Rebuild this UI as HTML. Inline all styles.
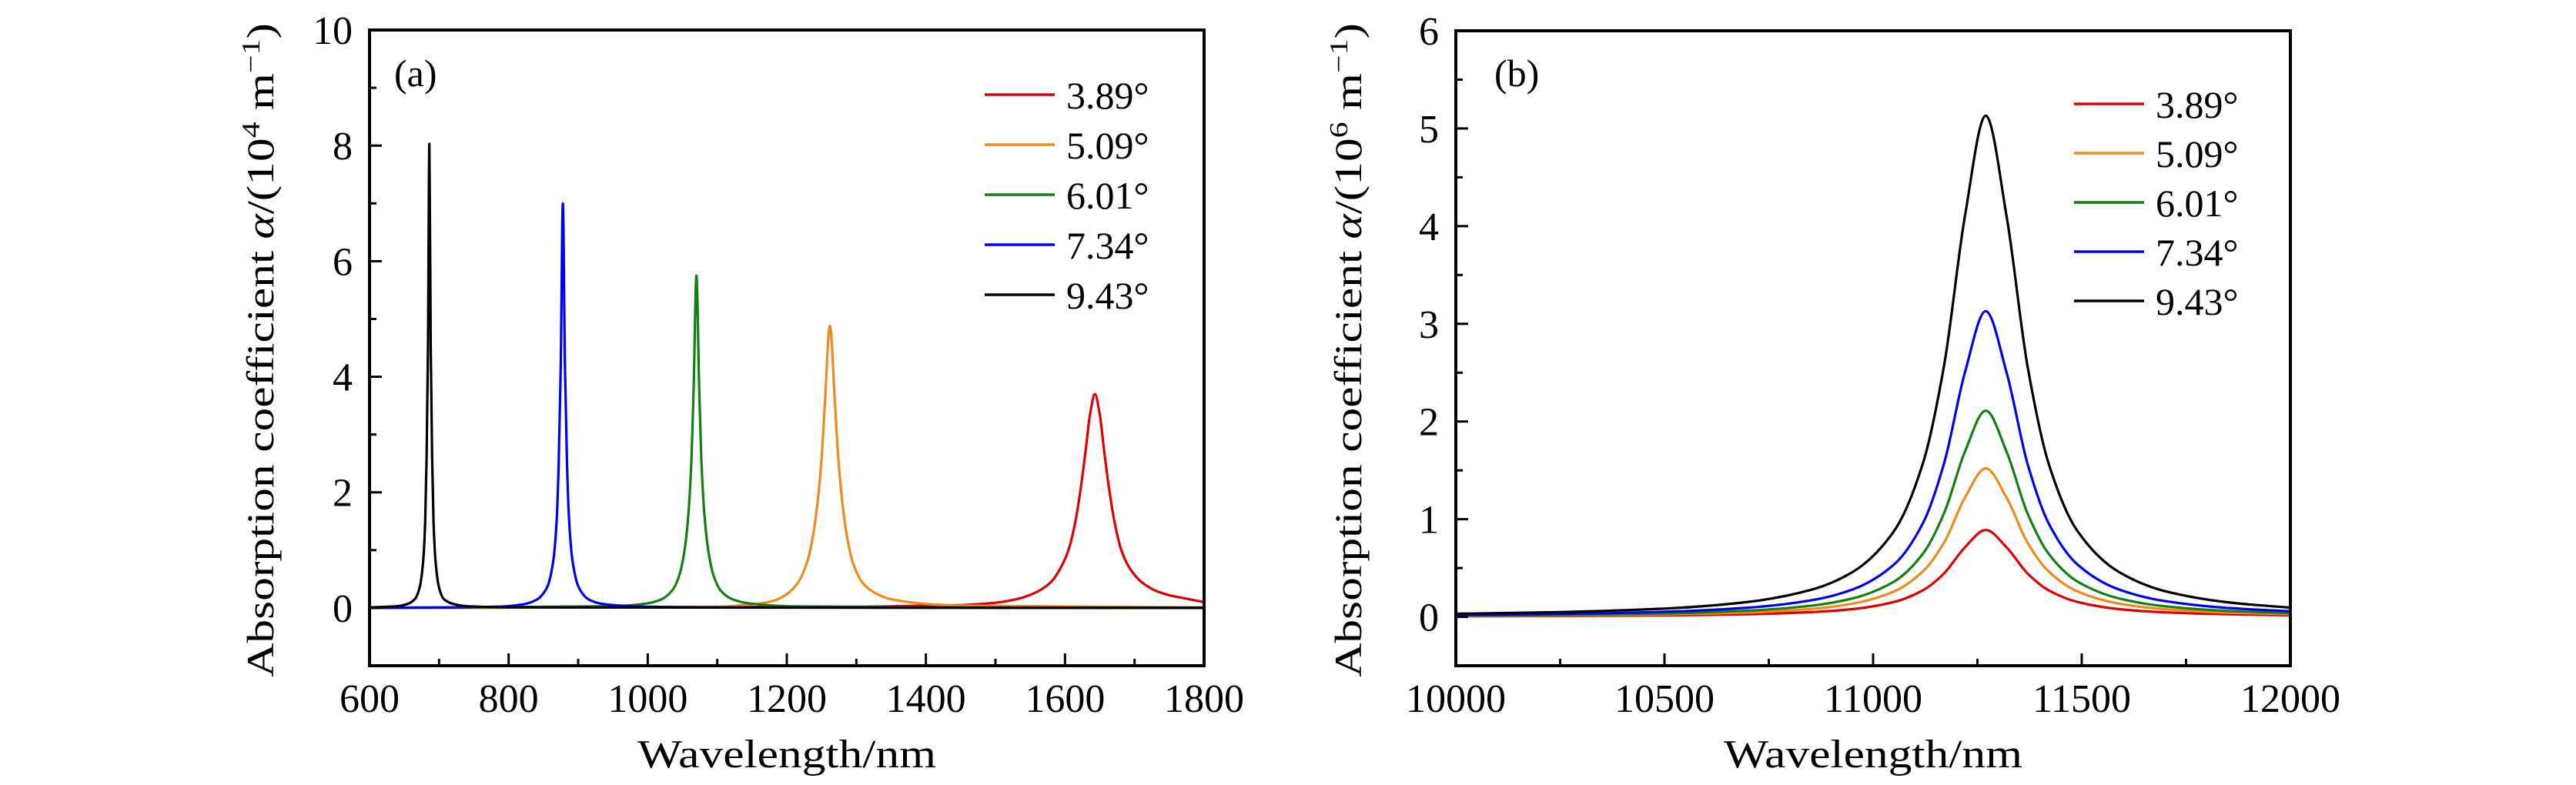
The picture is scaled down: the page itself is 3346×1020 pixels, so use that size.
<!DOCTYPE html>
<html><head><meta charset="utf-8"><style>
html,body{margin:0;padding:0;background:#fff;}
svg{display:block;font-family:"Liberation Serif",serif;}
</style></head><body>
<svg id="chart" width="3346" height="1020" viewBox="0 0 3346 1020" xmlns="http://www.w3.org/2000/svg"></svg>
<script>
const seriesNames = ["3.89°","5.09°","6.01°","7.34°","9.43°"];
const seriesColors = ["#e00000","#f08a1c","#128012","#0000f0","#000000"];

// Panel (a) data
const aRedX = [600,1300,1400,1450,1500,1530,1560,1580,1595,1605,1615,1623,1630,1636,1643,1650,1656,1663,1671,1681,1695,1710,1730,1750,1775,1800];
const aRedY = [0,0.02,0.04,0.05,0.09,0.15,0.28,0.45,0.72,1.0,1.5,2.1,2.75,3.35,3.7,3.35,2.75,2.1,1.5,1.0,0.65,0.45,0.3,0.22,0.16,0.1];
const aOrangeX = [600,1100,1150,1180,1200,1215,1228,1237,1244,1250,1255,1262,1269,1274,1280,1287,1296,1310,1330,1350,1400,1450,1800];
const aOrangeY = [0,0.02,0.06,0.12,0.24,0.42,0.75,1.2,1.8,2.6,3.6,4.88,3.6,2.6,1.8,1.2,0.75,0.42,0.24,0.15,0.07,0.04,0.01];
const aGreenX = [600,950,1000,1020,1035,1045,1053,1059,1063,1066,1070,1074,1077,1081,1087,1095,1105,1120,1140,1170,1200,1400,1800];
const aGreenY = [0,0.03,0.08,0.15,0.3,0.55,1.0,1.7,2.6,3.8,5.75,3.8,2.6,1.7,1.0,0.55,0.3,0.16,0.09,0.05,0.03,0.01,0];
const aBlueX = [600,780,820,840,855,864,869,872,875,878,881,884,887,892,901,916,935,960,1000,1100,1800];
const aBlueY = [0,0.02,0.06,0.14,0.35,0.8,1.5,2.5,4.2,7.0,4.2,2.5,1.5,0.8,0.35,0.14,0.07,0.04,0.02,0.01,0];
const aBlackX = [600,640,655,665,672,677,680,682,684,686,688,690,692,695,700,707,720,740,800,1800];
const aBlackY = [0.01,0.03,0.07,0.15,0.35,0.8,1.5,2.6,4.5,8.03,4.5,2.6,1.5,0.8,0.35,0.15,0.07,0.03,0.01,0];

// Panel (b) data
const bX = [10000,10250,10500,10700,10850,10950,11050,11120,11170,11220,11270,11320,11370,11420,11490,11590,11700,11850,12000];
const bRedY = [0.006,0.008,0.015,0.027,0.048,0.079,0.152,0.274,0.445,0.712,0.89,0.712,0.445,0.274,0.152,0.079,0.046,0.026,0.016];
const bOrangeY = [0.009,0.014,0.025,0.045,0.081,0.135,0.26,0.468,0.76,1.22,1.52,1.22,0.76,0.468,0.26,0.135,0.078,0.044,0.028];
const bGreenY = [0.013,0.02,0.035,0.063,0.113,0.188,0.361,0.65,1.06,1.69,2.11,1.69,1.06,0.65,0.361,0.188,0.108,0.061,0.039];
const bBlueY = [0.019,0.03,0.052,0.094,0.168,0.279,0.535,0.964,1.57,2.5,3.13,2.5,1.57,0.964,0.535,0.279,0.161,0.091,0.058];
const bBlackY = [0.032,0.049,0.085,0.153,0.275,0.457,0.877,1.58,2.57,4.1,5.13,4.1,2.57,1.58,0.877,0.457,0.263,0.149,0.094];

const aXTicks = [600,800,1000,1200,1400,1600,1800];
const aYTicks = [0,2,4,6,8,10];
const bXTicks = [10000,10500,11000,11500,12000];
const bYTicks = [0,1,2,3,4,5,6];

const NS = "http://www.w3.org/2000/svg";
const svg = document.getElementById("chart");
function mk(tag, attrs, parent){
  const e = document.createElementNS(NS, tag);
  for (const k in attrs) e.setAttribute(k, attrs[k]);
  (parent||svg).appendChild(e);
  return e;
}

// monotone cubic path (Fritsch-Carlson) in screen coords
function monoPath(px, py){
  const n = px.length;
  const d = [], m = [];
  for (let i = 0; i < n - 1; i++) d.push((py[i+1]-py[i])/(px[i+1]-px[i]));
  m[0] = d[0]; m[n-1] = d[n-2];
  for (let i = 1; i < n - 1; i++) {
    if (d[i-1]*d[i] <= 0) m[i] = 0;
    else {
      const h0 = px[i]-px[i-1], h1 = px[i+1]-px[i];
      const w1 = 2*h1 + h0, w2 = h1 + 2*h0;
      m[i] = (w1 + w2) / (w1/d[i-1] + w2/d[i]);
    }
  }
  let s = "M" + px[0].toFixed(1) + "," + py[0].toFixed(1);
  for (let i = 0; i < n - 1; i++) {
    const h = px[i+1]-px[i];
    s += " C" + (px[i]+h/3).toFixed(1) + "," + (py[i]+m[i]*h/3).toFixed(1) + " " +
         (px[i+1]-h/3).toFixed(1) + "," + (py[i+1]-m[i+1]*h/3).toFixed(1) + " " +
         px[i+1].toFixed(1) + "," + py[i+1].toFixed(1);
  }
  return s;
}

function panel(cfg){
  const g = mk("g", {});
  
  
  const sx = v => cfg.x0 + (v - cfg.xmin) / (cfg.xmax - cfg.xmin) * (cfg.x1 - cfg.x0);
  const sy = v => cfg.y1 - (v - cfg.ymin) / (cfg.ymax - cfg.ymin) * (cfg.y1 - cfg.y0);
  const sg = mk("g", {}, g);
  
  
  cfg.series.forEach((s, i) => {
    const p = mk("path", {d: monoPath(s.x.map(sx), s.y.map(sy)), fill: "none", stroke: seriesColors[i], "stroke-width": 3.2, "stroke-linejoin": "round"}, sg);
    
    
  });
  const fr = mk("rect", {x: cfg.x0, y: cfg.y0, width: cfg.x1 - cfg.x0, height: cfg.y1 - cfg.y0, fill: "none", stroke: "#000", "stroke-width": 4}, g);
  
  
  const xt = cfg.xTicks;
  const xstep = xt[1] - xt[0];
  for (let v = cfg.xmin; v <= cfg.xmax + 1e-9; v += xstep / 2) {
    const major = xt.some(t => Math.abs(t - v) < 1e-6);
    const X = sx(v);
    const t = mk("line", {x1: X, x2: X, y1: cfg.y1, y2: cfg.y1 - (major ? 16 : 9), stroke: "#000", "stroke-width": 3}, g);
    
    
  }
  xt.forEach(v => {
    const t = mk("text", {x: sx(v), y: cfg.y1 + 60, "text-anchor": "middle", "font-size": 52}, g);
    t.textContent = v;
    
    
  });
  const yt = cfg.yTicks;
  const ystep = yt[1] - yt[0];
  for (let v = cfg.ymin; v <= cfg.ymax + 1e-9; v += ystep / 2) {
    const major = yt.some(t => Math.abs(t - v) < 1e-6);
    const Y = sy(v);
    const t = mk("line", {x1: cfg.x0, x2: cfg.x0 + (major ? 16 : 9), y1: Y, y2: Y, stroke: "#000", "stroke-width": 3}, g);
    
    
  }
  yt.forEach(v => {
    const t = mk("text", {x: cfg.x0 - 22, y: sy(v) + 18, "text-anchor": "end", "font-size": 52}, g);
    t.textContent = v;
    
    
  });
  const xtl = mk("text", {x: (cfg.x0 + cfg.x1) / 2, y: 997, "text-anchor": "middle", "font-size": 52, textLength: 388, lengthAdjust: "spacingAndGlyphs"}, g);
  xtl.textContent = "Wavelength/nm";
  
  
  const ytl = mk("text", {x: 0, y: 0, "text-anchor": "middle", "font-size": 50, textLength: 850, lengthAdjust: "spacingAndGlyphs", transform: "translate(" + cfg.ytx + ",455) rotate(-90)"}, g);
  ytl.innerHTML = 'Absorption coefficient <tspan font-style="italic">α</tspan>/(10<tspan font-size="34" dy="-18">' + cfg.exp + '</tspan><tspan dy="18"> m</tspan><tspan font-size="34" dy="-18">−1</tspan><tspan dy="18">)</tspan>';
  
  
  const pl = mk("text", {x: cfg.labX, y: 112, "font-size": 50}, g);
  pl.textContent = cfg.label;
  
  
  const lg = mk("g", {}, g);
  
  
  seriesNames.forEach((n, i) => {
    const Y = cfg.legY + i * cfg.legDy;
    const e = mk("g", {}, lg);
    
    
    mk("line", {x1: cfg.legX, x2: cfg.legX + 91, y1: Y, y2: Y, stroke: seriesColors[i], "stroke-width": 3.5}, e);
    const t = mk("text", {x: cfg.legX + 106, y: Y + 18, "font-size": 50}, e);
    t.textContent = n;
  });
}

panel({name: "panel-a", x0: 480, x1: 1564, y0: 39, y1: 865, xmin: 600, xmax: 1800, ymin: -1, ymax: 10,
  xTicks: aXTicks, yTicks: aYTicks, exp: "4", ytx: 355, label: "(a)", labX: 512, legX: 1279, legY: 123, legDy: 65,
  series: [{x: aRedX, y: aRedY}, {x: aOrangeX, y: aOrangeY}, {x: aGreenX, y: aGreenY}, {x: aBlueX, y: aBlueY}, {x: aBlackX, y: aBlackY}]});
panel({name: "panel-b", x0: 1891, x1: 2975, y0: 40, y1: 865, xmin: 10000, xmax: 12000, ymin: -0.5, ymax: 6,
  xTicks: bXTicks, yTicks: bYTicks, exp: "6", ytx: 1768, label: "(b)", labX: 1941, legX: 2694, legY: 135, legDy: 64,
  series: [{x: bX, y: bRedY}, {x: bX, y: bOrangeY}, {x: bX, y: bGreenY}, {x: bX, y: bBlueY}, {x: bX, y: bBlackY}]});
</script>
</body></html>
